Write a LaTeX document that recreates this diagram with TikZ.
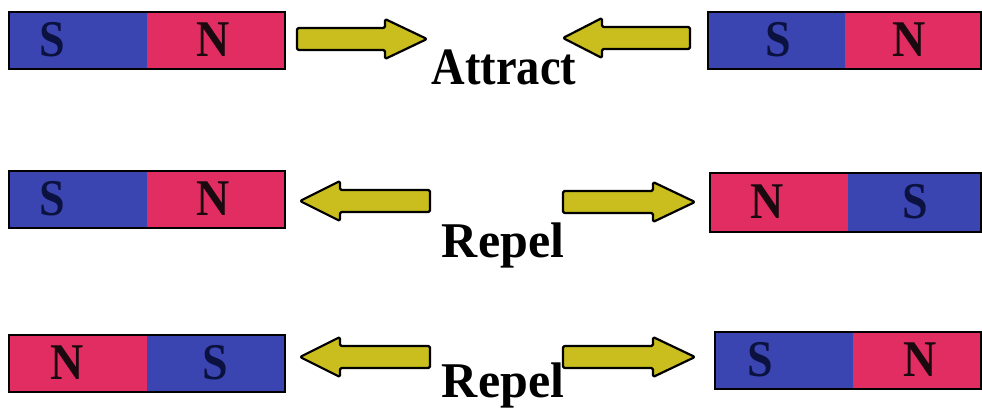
\documentclass[tikz,border=0pt]{standalone}
\usepackage{fontspec}
\setmainfont{Liberation Serif}
\definecolor{mblue}{HTML}{3B45B2}
\definecolor{mpink}{HTML}{E22D63}
\definecolor{ayel}{HTML}{C9BE1E}
\definecolor{sdark}{HTML}{0C1240}
\definecolor{ndark}{HTML}{1A0A10}
\newcommand\rarr[4]{\draw[arr] (#1,#4-11) -- (#2,#4-11) -- (#2,#4-20) -- (#3,#4) -- (#2,#4+20) -- (#2,#4+11) -- (#1,#4+11) -- cycle;}
\newcommand\larr[4]{\draw[arr] (#3,#4-11) -- (#2,#4-11) -- (#2,#4-20) -- (#1,#4) -- (#2,#4+20) -- (#2,#4+11) -- (#3,#4+11) -- cycle;}
\newcommand\tallpole[1]{\scalebox{1}[1.12]{#1}}
\begin{document}
\begin{tikzpicture}[x=1pt,y=-1pt,
  pole/.style={font=\fontsize{46}{46}\selectfont\bfseries, inner sep=0pt},
  spole/.style={pole,text=sdark},
  npole/.style={pole,text=ndark},
  frame/.style={draw=black,line width=2pt},
  arr/.style={fill=ayel,draw=black,line width=2.2pt,line join=round,rounded corners=1.5pt},
  lbl/.style={font=\fontsize{50}{50}\selectfont\bfseries,inner sep=0pt,anchor=base}]
\useasboundingbox (0,0) rectangle (982,409);
% Row 1
\fill[mblue] (9,12) rectangle (147,69);
\fill[mpink] (147,12) rectangle (285,69);
\draw[frame] (9,12) rectangle (285,69);
\node[spole] (s1) at (52,40) {\tallpole{S}};
\node[npole] (n1) at (213,40) {\tallpole{N}};
\fill[mblue] (708,12) rectangle (845,69);
\fill[mpink] (845,12) rectangle (981,69);
\draw[frame] (708,12) rectangle (981,69);
\node[spole] (s2) at (778,40) {\tallpole{S}};
\node[npole] (n2) at (909,40) {\tallpole{N}};
\rarr{297}{385}{427}{39}
\larr{563}{602}{690}{38}
\node[lbl] (attract) at (504,85) {\scalebox{0.93}[1.05]{Attract}};
% Row 2
\fill[mblue] (9,171) rectangle (147,228);
\fill[mpink] (147,171) rectangle (285,228);
\draw[frame] (9,171) rectangle (285,228);
\node[spole] (s3) at (52,199) {\tallpole{S}};
\node[npole] (n3) at (213,199) {\tallpole{N}};
\fill[mpink] (710,173) rectangle (848,232);
\fill[mblue] (848,173) rectangle (981,232);
\draw[frame] (710,173) rectangle (981,232);
\node[npole] (n4) at (767,202) {\tallpole{N}};
\node[spole] (s4) at (915,202) {\tallpole{S}};
\larr{300}{340}{430}{201}
\rarr{563}{653}{695}{202}
\node[lbl] (repel1) at (503,257) {Repel};
% Row 3
\fill[mpink] (9,335) rectangle (147,392);
\fill[mblue] (147,335) rectangle (285,392);
\draw[frame] (9,335) rectangle (285,392);
\node[npole] (n5) at (67,363) {\tallpole{N}};
\node[spole] (s5) at (215,363) {\tallpole{S}};
\fill[mblue] (715,332) rectangle (853,389);
\fill[mpink] (853,332) rectangle (981,389);
\draw[frame] (715,332) rectangle (981,389);
\node[spole] (s6) at (760,360) {\tallpole{S}};
\node[npole] (n6) at (920,360) {\tallpole{N}};
\larr{300}{340}{430}{357}
\rarr{563}{653}{695}{357}
\node[lbl] (repel2) at (503,397) {Repel};
\end{tikzpicture}
\end{document}
